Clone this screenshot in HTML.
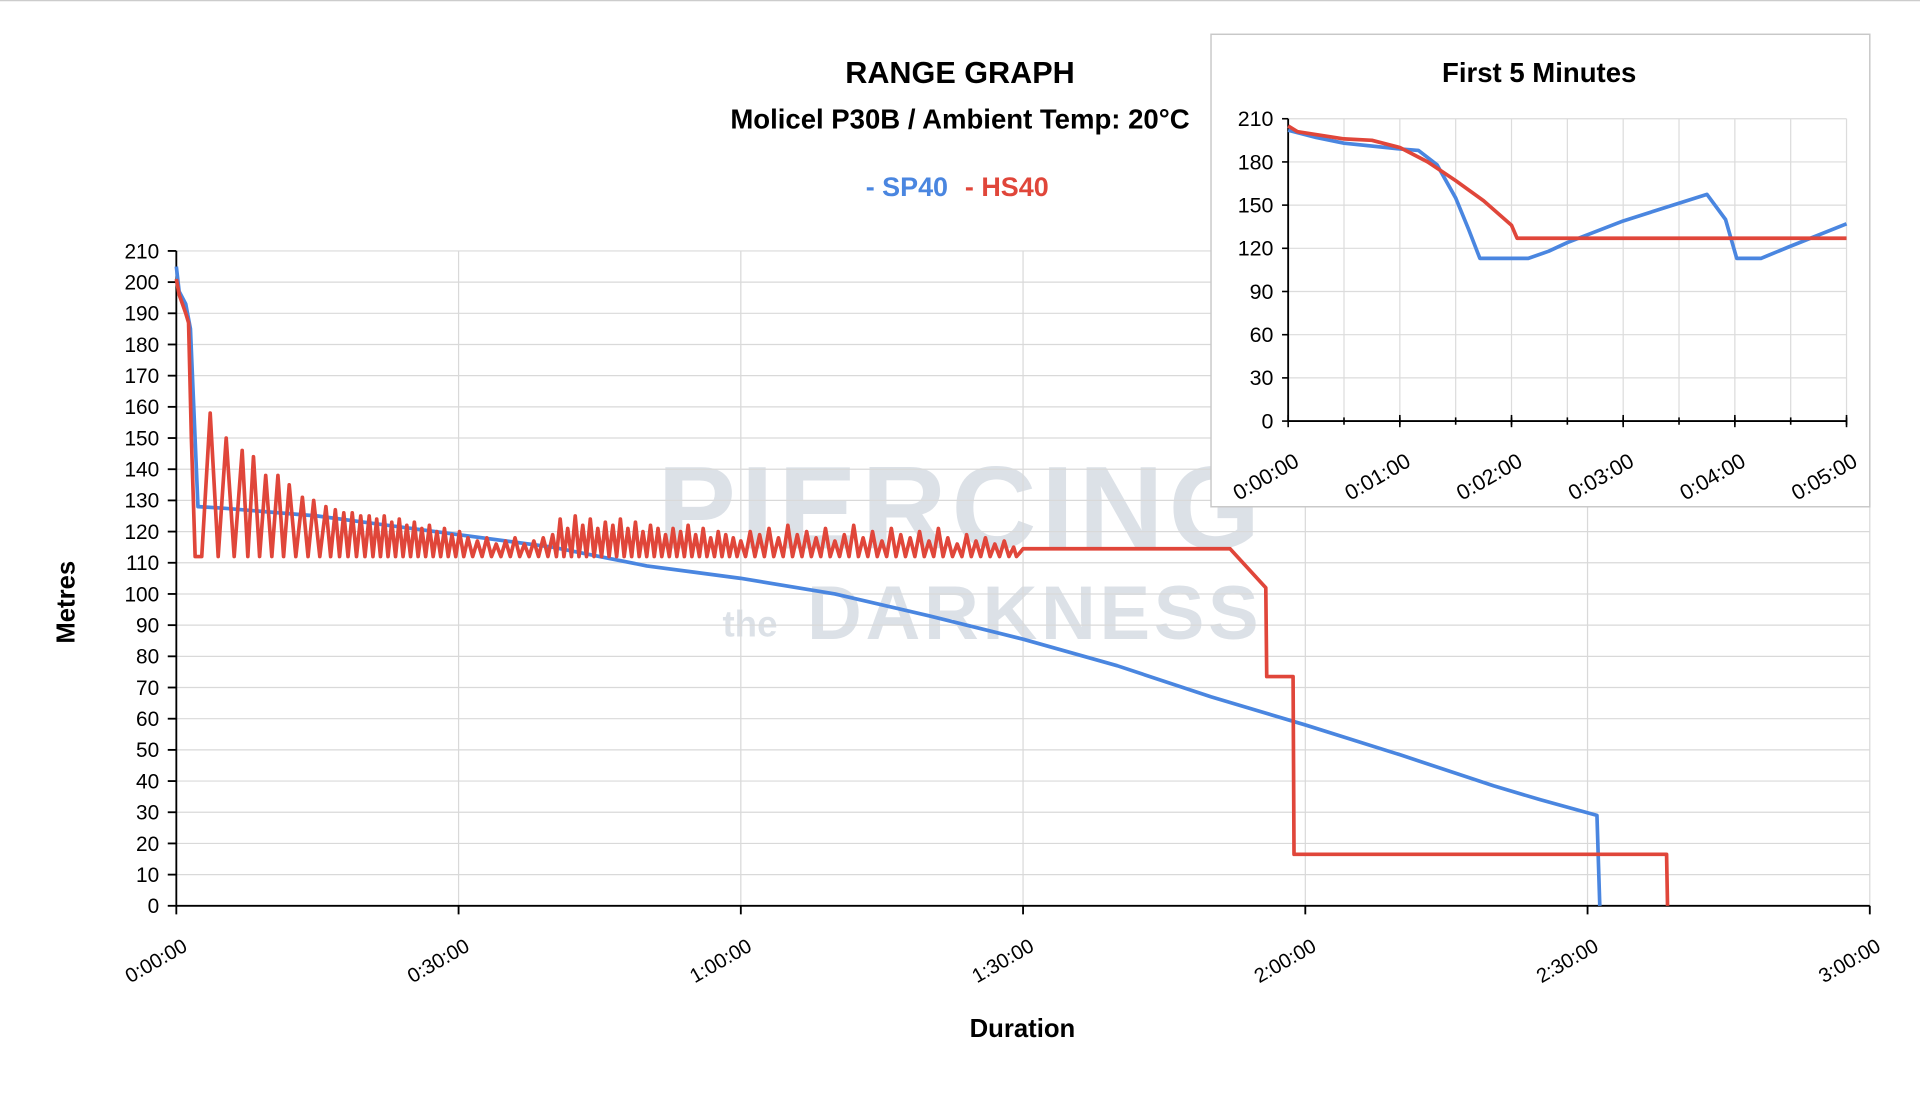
<!DOCTYPE html>
<html><head><meta charset="utf-8"><style>
html,body{margin:0;padding:0;background:#fff;}
svg{display:block;font-family:"Liberation Sans",Arial,sans-serif;}
</style></head><body>
<svg id="chart" width="1920" height="1109" viewBox="0 0 1568 906" preserveAspectRatio="none" xmlns="http://www.w3.org/2000/svg">
<line x1="0" y1="0.5" x2="1568" y2="0.5" stroke="#ccc" stroke-width="1"/>
<g id="watermark" opacity="0.6">
<text x="785" y="448" text-anchor="middle" font-size="96" font-weight="bold" fill="#c5ced8" letter-spacing="4">PIERCING</text>
<text x="590" y="520" font-size="30" font-weight="bold" fill="#c5ced8">the</text>
<text x="845" y="522" text-anchor="middle" font-size="62" font-weight="bold" fill="#c5ced8" letter-spacing="3">DARKNESS</text>
</g>
<g id="main"></g>
<text x="784" y="68" text-anchor="middle" font-size="25" font-weight="bold">RANGE GRAPH</text>
<text x="784" y="105" text-anchor="middle" font-size="22.5" font-weight="bold">Molicel P30B / Ambient Temp: 20°C</text>
<g>
<text x="707" y="160" font-size="22" font-weight="bold" fill="#4a86e0">- SP40</text>
<text x="788" y="160" font-size="22" font-weight="bold" fill="#e0463a">- HS40</text>
</g>
<text transform="translate(61,492) rotate(-90)" text-anchor="middle" font-size="21" font-weight="bold">Metres</text>
<text x="835" y="847" text-anchor="middle" font-size="21" font-weight="bold">Duration</text>
<rect x="989" y="28" width="538" height="386" fill="#fff" stroke="#c8c8c8" stroke-width="1.2"/>
<text x="1257" y="67" text-anchor="middle" font-size="22.5" font-weight="bold">First 5 Minutes</text>
<g id="inset"></g>
</svg>
<script>
// ---- main chart data (minutes, metres) ----
const sp40T = [0,0.3,1,1.5,2.3,5,15,25,30,40,45,50,55,60,70,80,90,100,110,120,130,140,145,151,151.3];
const sp40V = [205,197,193,185,128,127.5,125,121,119,115,112,109,107,105,100,93,85.5,77,67,58,48.5,38.5,34,29,0];
const hsStartT = [0,0.3,1,1.3,1.6,2.0,2.7];
const hsStartV = [201,196,190,187,150,112,112];
const hsPeakT = [3.6,5.3,7.0,8.2,9.5,10.8,12.0,13.4,14.6,15.9,16.9,17.8,18.7,19.6,20.5,21.3,22.1,22.9,23.7,24.5,25.3,26.1,26.9,27.7,28.5,29.3,30.1,31,32,33,34,35,36,37,38,39,40,40.8,41.6,42.4,43.2,44.0,44.8,45.6,46.4,47.2,48.0,48.8,49.6,50.4,51.2,52.0,52.8,53.6,54.4,55.2,56.0,56.8,57.6,58.4,59.2,60.0,61,62,63,64,65,66,67,68,69,70,71,72,73,74,75,76,77,78,79,80,81,82,83,84,85,86,87,88,89];
const hsPeakV = [158,150,146,144,138,138,135,131,130,128,127,126,126,125,125,124,125,123,124,122,123,121,122,120,121,119,120,118,117,118,116,117,118,116,117,118,119,124,121,125,122,124,121,123,122,124,121,123,120,122,121,119,121,120,122,119,121,118,120,119,118,117,120,119,121,118,122,119,120,118,121,117,119,122,118,120,117,121,119,118,120,117,121,118,116,119,117,118,116,117,115];
const hsTrough = 112;
const hsEndT = [89.6,90,112,115.8,115.9,118.7,118.8,158.4,158.5];
const hsEndV = [113,114.5,114.5,102,73.5,73.5,16.5,16.5,0];
const yTicks = [0,10,20,30,40,50,60,70,80,90,100,110,120,130,140,150,160,170,180,190,200,210];
const xTickMin = [0,30,60,90,120,150,180];
const xTickLabels = ["0:00:00","0:30:00","1:00:00","1:30:00","2:00:00","2:30:00","3:00:00"];
// ---- inset data (seconds, metres) ----
const inSpT = [0,15,30,60,70,80,90,97,103,129,140,150,180,225,235,241,254,269,300];
const inSpV = [202,197,193,189,188,178,155,133,113,113,118,124,139,157.5,140,113,113,121,137];
const inHsT = [0,5,30,45,60,75,90,105,120,123,300];
const inHsV = [205,201,196,195,190,180,167,153,136,127,127];
const inYTicks = [0,30,60,90,120,150,180,210];
const inXTickSec = [0,60,120,180,240,300];
const inXTickLabels = ["0:00:00","0:01:00","0:02:00","0:03:00","0:04:00","0:05:00"];

const NS="http://www.w3.org/2000/svg";
function mk(tag,attrs,parent){const e=document.createElementNS(NS,tag);for(const k in attrs)e.setAttribute(k,attrs[k]);parent.appendChild(e);return e;}

const X0=144,X1=1527,Y0=740,Y1=205;
const xs=m=>X0+(m/180)*(X1-X0);
const ys=v=>Y0-(v/210)*(Y0-Y1);
const main=document.getElementById('main');
yTicks.forEach(v=>{
  const l=mk('line',{x1:X0,x2:X1,y1:ys(v),y2:ys(v),stroke:'#d9d9d9','stroke-width':1},main);
  
  
  mk('line',{x1:X0-7,x2:X0,y1:ys(v),y2:ys(v),stroke:'#000','stroke-width':1.5},main);
  const t=mk('text',{x:X0-14,y:ys(v)+6,'text-anchor':'end','font-size':17},main);
  t.textContent=v;
  
  
});
xTickMin.forEach((m,i)=>{
  const l=mk('line',{x1:xs(m),x2:xs(m),y1:Y1,y2:Y0,stroke:'#d9d9d9','stroke-width':1},main);
  
  
  mk('line',{x1:xs(m),x2:xs(m),y1:Y0,y2:Y0+7,stroke:'#000','stroke-width':1.5},main);
  const t=mk('text',{transform:`translate(${xs(m)+10},${Y0+36}) rotate(-30)`,'text-anchor':'end','font-size':16.5},main);
  t.textContent=xTickLabels[i];
  
  
});
mk('line',{x1:X0,x2:X0,y1:Y1,y2:Y0,stroke:'#000','stroke-width':1.5},main);
mk('line',{x1:X0,x2:X1,y1:Y0,y2:Y0,stroke:'#000','stroke-width':1.5},main);

function pathFrom(T,V,fx,fy){return T.map((t,i)=>(i?'L':'M')+fx(t).toFixed(2)+','+fy(V[i]).toFixed(2)).join(' ');}
const sp=mk('path',{d:pathFrom(sp40T,sp40V,xs,ys),fill:'none',stroke:'#4a86e0','stroke-width':3,'stroke-linejoin':'round'},main);


const hT=[...hsStartT], hV=[...hsStartV];
const n=Math.min(hsPeakT.length,hsPeakV.length);
for(let i=0;i<n;i++){
  hT.push(hsPeakT[i]);hV.push(hsPeakV[i]);
  const next=i+1<n?hsPeakT[i+1]:hsEndT[0];
  hT.push((hsPeakT[i]+next)/2);hV.push(hsTrough);
}
hT.push(...hsEndT);hV.push(...hsEndV);
const hs=mk('path',{d:pathFrom(hT,hV,xs,ys),fill:'none',stroke:'#e0463a','stroke-width':3,'stroke-linejoin':'round'},main);



const IX0=1052,IX1=1508,IY0=344,IY1=97;
const ixs=s=>IX0+(s/300)*(IX1-IX0);
const iys=v=>IY0-(v/210)*(IY0-IY1);
const ins=document.getElementById('inset');
inYTicks.forEach(v=>{
  const l=mk('line',{x1:IX0,x2:IX1,y1:iys(v),y2:iys(v),stroke:'#dcdcdc','stroke-width':1},ins);
  
  
  mk('line',{x1:IX0-5,x2:IX0,y1:iys(v),y2:iys(v),stroke:'#000','stroke-width':1.3},ins);
  const t=mk('text',{x:IX0-12,y:iys(v)+6,'text-anchor':'end','font-size':17.5},ins);
  t.textContent=v;
  
  
});
for(let s=30;s<=300;s+=30){
  const l=mk('line',{x1:ixs(s),x2:ixs(s),y1:IY1,y2:IY0,stroke:'#dcdcdc','stroke-width':1},ins);
  
  
  mk('line',{x1:ixs(s),x2:ixs(s),y1:IY0-3,y2:IY0+3,stroke:'#000','stroke-width':1.3},ins);
}
inXTickSec.forEach((s,i)=>{
  mk('line',{x1:ixs(s),x2:ixs(s),y1:IY0-5,y2:IY0+5,stroke:'#000','stroke-width':1.3},ins);
  const t=mk('text',{transform:`translate(${ixs(s)+10},${IY0+36}) rotate(-30)`,'text-anchor':'end','font-size':17.5},ins);
  t.textContent=inXTickLabels[i];
  
  
});
mk('line',{x1:IX0,x2:IX0,y1:IY1,y2:IY0,stroke:'#000','stroke-width':1.5},ins);
mk('line',{x1:IX0,x2:IX1,y1:IY0,y2:IY0,stroke:'#000','stroke-width':1.5},ins);
const isp=mk('path',{d:pathFrom(inSpT,inSpV,ixs,iys),fill:'none',stroke:'#4a86e0','stroke-width':3,'stroke-linejoin':'round'},ins);


const ihs=mk('path',{d:pathFrom(inHsT,inHsV,ixs,iys),fill:'none',stroke:'#e0463a','stroke-width':3,'stroke-linejoin':'round'},ins);


</script>
</body></html>
